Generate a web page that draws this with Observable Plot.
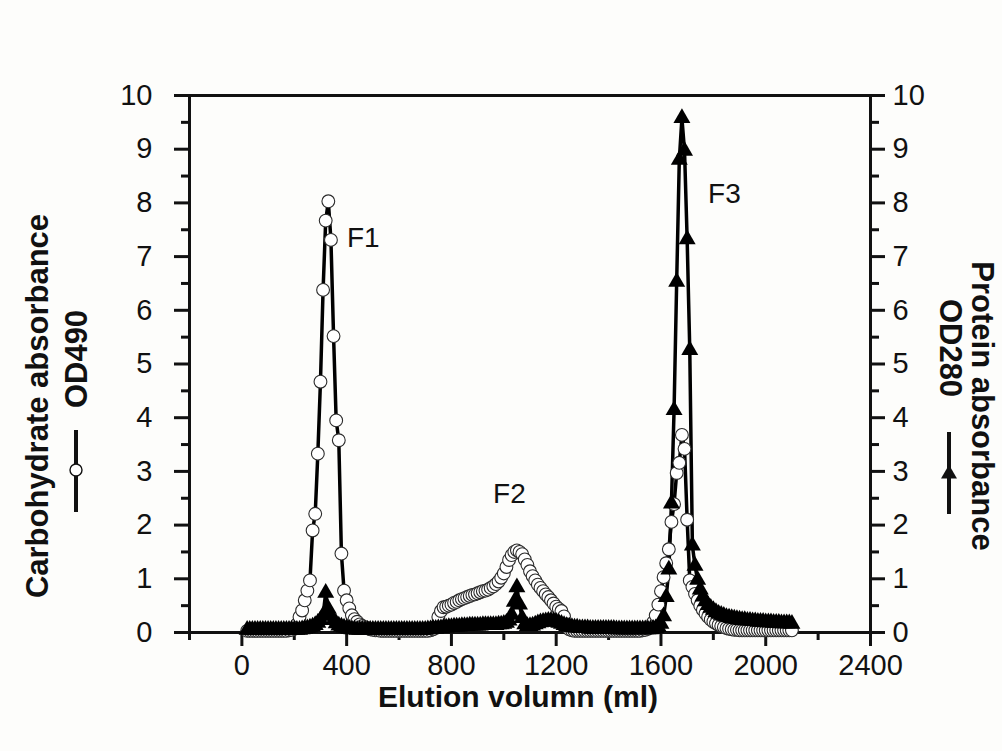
<!DOCTYPE html>
<html>
<head>
<meta charset="utf-8">
<script src="https://cdn.jsdelivr.net/npm/d3@7"></script>
<script src="https://cdn.jsdelivr.net/npm/@observablehq/plot@0.6"></script>
<style>
  html, body { margin: 0; padding: 0; background: #fdfdfb; }
  #chart { width: 1002px; height: 751px; }
</style>
</head>
<body>
<div id="chart"></div>
<script>
// Elution volume (ml) of each fraction
const volume = [
  20, 30, 40, 50, 60, 70, 80, 90,
  100, 110, 120, 130, 140, 150, 160, 170, 180, 190,
  200, 210, 220, 230, 240, 250, 260, 270, 280, 290,
  300, 310, 320, 330, 340, 350, 360, 370, 380, 390,
  400, 410, 420, 430, 440, 450, 460, 470, 480, 490,
  500, 510, 520, 530, 540, 550, 560, 570, 580, 590,
  600, 610, 620, 630, 640, 650, 660, 670, 680, 690,
  700, 710, 720, 730, 740, 750, 760, 770, 780, 790,
  800, 810, 820, 830, 840, 850, 860, 870, 880, 890,
  900, 910, 920, 930, 940, 950, 960, 970, 980, 990,
  1000, 1010, 1020, 1030, 1040, 1050, 1060, 1070, 1080, 1090,
  1100, 1110, 1120, 1130, 1140, 1150, 1160, 1170, 1180, 1190,
  1200, 1210, 1220, 1230, 1240, 1250, 1260, 1270, 1280, 1290,
  1300, 1310, 1320, 1330, 1340, 1350, 1360, 1370, 1380, 1390,
  1400, 1410, 1420, 1430, 1440, 1450, 1460, 1470, 1480, 1490,
  1500, 1510, 1520, 1530, 1540, 1550, 1560, 1570, 1580, 1590,
  1600, 1610, 1620, 1630, 1640, 1650, 1660, 1670, 1680, 1690,
  1700, 1710, 1720, 1730, 1740, 1750, 1760, 1770, 1780, 1790,
  1800, 1810, 1820, 1830, 1840, 1850, 1860, 1870, 1880, 1890,
  1900, 1910, 1920, 1930, 1940, 1950, 1960, 1970, 1980, 1990,
  2000, 2010, 2020, 2030, 2040, 2050, 2060, 2070, 2080, 2090,
  2100
];

// Carbohydrate absorbance, OD490 (open circles)
const od490 = [
  0.03, 0.03, 0.03, 0.03, 0.03, 0.03, 0.03, 0.03,
  0.03, 0.03, 0.03, 0.03, 0.03, 0.03, 0.03, 0.03, 0.04, 0.05,
  0.07, 0.15, 0.29, 0.41, 0.60, 0.78, 0.97, 1.90, 2.21, 3.33,
  4.67, 6.38, 7.67, 8.03, 7.31, 5.52, 3.95, 3.58, 1.47, 0.78,
  0.60, 0.45, 0.32, 0.25, 0.20, 0.15, 0.12, 0.10, 0.08, 0.06,
  0.05, 0.04, 0.04, 0.03, 0.03, 0.03, 0.03, 0.03, 0.03, 0.03,
  0.03, 0.03, 0.03, 0.03, 0.03, 0.03, 0.03, 0.03, 0.03, 0.03,
  0.03, 0.03, 0.04, 0.06, 0.12, 0.29, 0.40, 0.47, 0.48, 0.50,
  0.52, 0.55, 0.57, 0.60, 0.62, 0.64, 0.66, 0.68, 0.70, 0.71,
  0.73, 0.75, 0.77, 0.78, 0.80, 0.83, 0.86, 0.90, 0.95, 1.02,
  1.10, 1.22, 1.35, 1.44, 1.50, 1.53, 1.50, 1.46, 1.36, 1.26,
  1.14, 1.05, 0.97, 0.89, 0.83, 0.77, 0.71, 0.66, 0.60, 0.54,
  0.48, 0.44, 0.40, 0.30, 0.15, 0.06, 0.04, 0.03, 0.03, 0.03,
  0.03, 0.03, 0.03, 0.03, 0.03, 0.03, 0.03, 0.03, 0.03, 0.03,
  0.03, 0.03, 0.03, 0.03, 0.03, 0.03, 0.03, 0.03, 0.03, 0.03,
  0.03, 0.03, 0.03, 0.04, 0.05, 0.07, 0.10, 0.19, 0.32, 0.52,
  0.77, 1.03, 1.29, 1.55, 2.06, 2.39, 2.97, 3.16, 3.68, 3.42,
  2.10, 0.97, 0.85, 0.72, 0.60, 0.50, 0.42, 0.35, 0.29, 0.24,
  0.20, 0.17, 0.14, 0.12, 0.10, 0.08, 0.07, 0.06, 0.05, 0.05,
  0.04, 0.04, 0.04, 0.04, 0.04, 0.04, 0.04, 0.04, 0.04, 0.04,
  0.04, 0.04, 0.04, 0.04, 0.04, 0.04, 0.04, 0.04, 0.04, 0.04,
  0.04
];

// Protein absorbance, OD280 (filled triangles)
const od280 = [
  0.05, 0.05, 0.05, 0.05, 0.05, 0.05, 0.05, 0.05,
  0.05, 0.05, 0.05, 0.05, 0.05, 0.05, 0.05, 0.05, 0.05, 0.05,
  0.05, 0.05, 0.05, 0.06, 0.07, 0.08, 0.09, 0.11, 0.14, 0.18,
  0.23, 0.32, 0.74, 0.44, 0.31, 0.23, 0.17, 0.13, 0.11, 0.09,
  0.08, 0.07, 0.06, 0.06, 0.05, 0.05, 0.05, 0.05, 0.05, 0.05,
  0.05, 0.05, 0.05, 0.05, 0.05, 0.05, 0.05, 0.05, 0.05, 0.05,
  0.05, 0.05, 0.05, 0.05, 0.05, 0.05, 0.05, 0.05, 0.05, 0.05,
  0.05, 0.06, 0.06, 0.07, 0.07, 0.08, 0.08, 0.09, 0.09, 0.10,
  0.10, 0.11, 0.11, 0.11, 0.12, 0.12, 0.12, 0.13, 0.13, 0.13,
  0.13, 0.13, 0.14, 0.14, 0.14, 0.14, 0.14, 0.14, 0.15, 0.15,
  0.16, 0.18, 0.22, 0.33, 0.57, 0.84, 0.52, 0.27, 0.15, 0.12,
  0.12, 0.13, 0.15, 0.17, 0.19, 0.20, 0.21, 0.22, 0.22, 0.21,
  0.20, 0.18, 0.16, 0.14, 0.12, 0.11, 0.10, 0.09, 0.09, 0.08,
  0.08, 0.08, 0.08, 0.07, 0.07, 0.07, 0.07, 0.07, 0.07, 0.07,
  0.07, 0.07, 0.07, 0.06, 0.06, 0.06, 0.06, 0.06, 0.06, 0.06,
  0.06, 0.06, 0.06, 0.06, 0.06, 0.06, 0.06, 0.07, 0.08, 0.10,
  0.16, 0.30, 0.66, 1.17, 2.40, 4.14, 6.53, 8.80, 9.58, 8.97,
  7.32, 5.26, 1.62, 1.24, 0.98, 0.80, 0.67, 0.58, 0.51, 0.46,
  0.42, 0.38, 0.35, 0.33, 0.31, 0.29, 0.28, 0.27, 0.26, 0.25,
  0.24, 0.23, 0.23, 0.22, 0.22, 0.21, 0.21, 0.20, 0.20, 0.20,
  0.19, 0.19, 0.19, 0.18, 0.18, 0.18, 0.17, 0.17, 0.17, 0.17,
  0.16
];

// Axis ticks
const xTicks = [0, 400, 800, 1200, 1600, 2000, 2400];
const xMinorTicks = [-200, 200, 600, 1000, 1400, 1800, 2200];
const yTicks = [0, 1, 2, 3, 4, 5, 6, 7, 8, 9, 10];
const yMinorTicks = [0.5, 1.5, 2.5, 3.5, 4.5, 5.5, 6.5, 7.5, 8.5, 9.5];

// Peak annotations
const peakNames = ["F1", "F2", "F3"];
const peakVolume = [401, 959, 1780];
const peakLevel = [7.34, 2.57, 8.16];

const xTitle = "Elution volumn (ml)";
const leftTitle = "Carbohydrate absorbance";
const leftUnit = "OD490";
const rightTitle = "Protein absorbance";
const rightUnit = "OD280";

const carb = volume.map((v, i) => ({volume: v, value: od490[i]}));
const prot = volume.map((v, i) => ({volume: v, value: od280[i]}));
const peaks = peakNames.map((n, i) => ({name: n, volume: peakVolume[i], value: peakLevel[i]}));

const ink = "#111";
const fmt = d => String(d);

const chart = Plot.plot({
  width: 1002,
  height: 751,
  marginLeft: 189,
  marginRight: 132,
  marginTop: 95,
  marginBottom: 119,
  x: {domain: [-200, 2400], label: null},
  y: {domain: [0, 10], label: null},
  style: {
    fontFamily: "'Liberation Sans', Arial, Helvetica, sans-serif",
    fontSize: "29px",
    color: ink,
    background: "#fdfdfb",
    overflow: "visible"
  },
  marks: [
    // frame
    Plot.ruleY([0, 10], {x1: -257, x2: 2457, stroke: ink, strokeWidth: 3}),
    Plot.ruleX([-200, 2400], {y1: 0, y2: 10, stroke: ink, strokeWidth: 3}),
    // axes
    Plot.axisY(yTicks, {anchor: "left", tickSize: 15, tickPadding: 22, strokeWidth: 3, label: null, tickFormat: fmt}),
    Plot.axisY(yMinorTicks, {anchor: "left", tickSize: 8, strokeWidth: 3, label: null, tickFormat: () => ""}),
    Plot.axisY(yTicks, {anchor: "right", tickSize: 14, tickPadding: 8, strokeWidth: 3, label: null, tickFormat: fmt}),
    Plot.axisY(yMinorTicks, {anchor: "right", tickSize: 8, strokeWidth: 3, label: null, tickFormat: () => ""}),
    Plot.axisX(xTicks, {anchor: "bottom", tickSize: 14, tickPadding: 8, strokeWidth: 3, label: null, tickFormat: fmt}),
    Plot.axisX(xMinorTicks, {anchor: "bottom", tickSize: 8, strokeWidth: 3, label: null, tickFormat: () => ""}),
    // series
    Plot.line(prot, {x: "volume", y: "value", stroke: "black", strokeWidth: 3.5}),
    Plot.line(carb, {x: "volume", y: "value", stroke: "black", strokeWidth: 3.5}),
    Plot.dot(carb, {x: "volume", y: "value", r: 6.4, fill: "white", stroke: "#2a2a2a", strokeWidth: 1.1}),
    Plot.dot(prot, {x: "volume", y: "value", symbol: "triangle", r: 6.3, fill: "black", stroke: "none"}),
    // peak labels
    Plot.text(peaks, {x: "volume", y: "value", text: "name", fontSize: 28, textAnchor: "start", lineAnchor: "middle", fill: ink}),
    // axis titles
    Plot.text([xTitle], {frameAnchor: "bottom", textAnchor: "middle", dx: -12, dy: 65, fontSize: 30, fontWeight: "bold", lineAnchor: "middle", fill: ink}),
    Plot.text([leftTitle], {frameAnchor: "left", textAnchor: "middle", rotate: -90, dx: -151, dy: 42, fontSize: 31, fontWeight: "bold", lineAnchor: "middle", fill: ink}),
    Plot.text([leftUnit], {frameAnchor: "left", textAnchor: "middle", rotate: -90, dx: -112, dy: -5, fontSize: 31, fontWeight: "bold", lineAnchor: "middle", fill: ink}),
    Plot.text([rightTitle], {frameAnchor: "right", textAnchor: "middle", rotate: 90, dx: 111, dy: 42, fontSize: 31, fontWeight: "bold", lineAnchor: "middle", fill: ink}),
    Plot.text([rightUnit], {frameAnchor: "right", textAnchor: "middle", rotate: 90, dx: 79, dy: -16, fontSize: 31, fontWeight: "bold", lineAnchor: "middle", fill: ink})
  ]
});

// legend keys beside the unit labels
const svg = d3.select(chart);
const g = svg.append("g");
g.append("line").attr("x1", 76).attr("x2", 76).attr("y1", 430).attr("y2", 512)
  .attr("stroke", ink).attr("stroke-width", 4);
g.append("circle").attr("cx", 76).attr("cy", 470).attr("r", 6)
  .attr("fill", "white").attr("stroke", ink).attr("stroke-width", 1.4);
g.append("line").attr("x1", 949).attr("x2", 949).attr("y1", 432).attr("y2", 514)
  .attr("stroke", ink).attr("stroke-width", 4);
g.append("path").attr("d", d3.symbol(d3.symbolTriangle, 110)())
  .attr("transform", "translate(949,474)").attr("fill", ink);

document.getElementById("chart").appendChild(chart);
</script>
</body>
</html>
